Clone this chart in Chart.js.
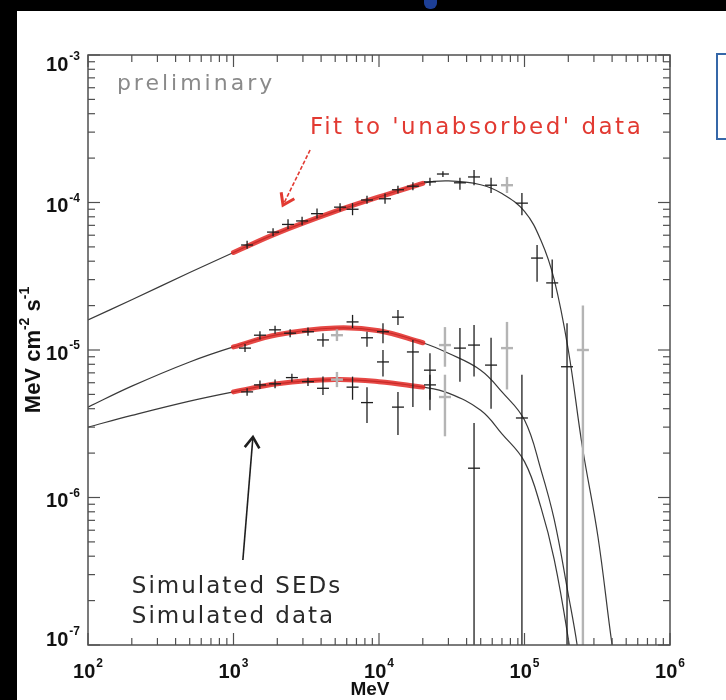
<!DOCTYPE html>
<html>
<head>
<meta charset="utf-8">
<script src="https://cdn.jsdelivr.net/npm/chart.js@4/dist/chart.umd.min.js"></script>
<style>
  html, body { margin: 0; padding: 0; width: 726px; height: 700px; overflow: hidden; background: #000; position: relative; }
  #page { position: absolute; left: 17px; top: 11px; width: 709px; height: 689px; background: #fff; overflow: hidden; }
  #sed { display: block; }
  #sidebox { position: absolute; left: 716px; top: 53px; width: 40px; height: 87px; border: 2px solid #3567a8; box-sizing: border-box; }
  #topmark { position: absolute; left: 424px; top: 0; width: 13px; height: 9px; background: #1d3f96; border-radius: 0 0 6px 6px; }
</style>
</head>
<body>
<div id="page"><canvas id="sed" width="709" height="689"></canvas></div>
<div id="sidebox"></div>
<div id="topmark"></div>
<script>
// Model SEDs (MeV cm^-2 s^-1) versus energy (MeV)
const modelEnergyHigh = [100, 200, 500, 1e3, 2e3, 5e3, 1e4, 2e4, 3e4, 5e4, 7e4, 1e5, 1.3e5, 1.6e5, 2e5, 2.5e5, 3.2e5, 4e5, 4.5e5];
const sedHigh = [1.6e-5, 2.19e-5, 3.35e-5, 4.58e-5, 6.2e-5, 8.7e-5, 1.09e-4, 1.35e-4, 1.40e-4, 1.32e-4, 1.15e-4, 8.7e-5, 5.5e-5, 3.0e-5, 1.0e-5, 2.2e-6, 5.4e-7, 1.0e-7, 5e-8];
const modelEnergy = [100, 200, 500, 1e3, 2e3, 5e3, 1e4, 2e4, 3e4, 5e4, 7e4, 1e5, 1.3e5, 1.6e5, 2e5, 2.3e5, 2.5e5];
const sedMid = [4.1e-6, 5.69e-6, 8.3e-6, 1.05e-5, 1.27e-5, 1.41e-5, 1.35e-5, 1.12e-5, 9.5e-6, 7.3e-6, 5.2e-6, 3.35e-6, 1.53e-6, 7.1e-7, 2.2e-7, 1.0e-7, 5e-8];
const sedLow = [3.0e-6, 3.6e-6, 4.5e-6, 5.2e-6, 5.9e-6, 6.3e-6, 6.1e-6, 5.6e-6, 5.1e-6, 3.9e-6, 2.7e-6, 1.75e-6, 8.5e-7, 3.8e-7, 1.1e-7, 4e-8, 2e-8];

// Fits to the unabsorbed part of each spectrum
const fitEnergy = [1e3, 2e3, 5e3, 1e4, 2e4];
const fitHigh = [4.58e-5, 6.2e-5, 8.7e-5, 1.09e-4, 1.35e-4];
const fitMid = [1.05e-5, 1.27e-5, 1.41e-5, 1.35e-5, 1.12e-5];
const fitLow = [5.2e-6, 5.9e-6, 6.3e-6, 6.1e-6, 5.6e-6];

// Simulated data points: energy, flux, lower and upper error
const dataHighE = [1.24e3, 1.87e3, 2.37e3, 2.96e3, 3.75e3, 5.40e3, 6.58e3, 8.27e3, 1.10e4, 1.35e4, 1.71e4, 2.24e4, 2.75e4, 3.60e4, 4.50e4, 5.89e4, 9.6e4, 1.22e5, 1.55e5, 1.96e5];
const dataHighF = [5.15e-5, 6.3e-5, 7.1e-5, 7.5e-5, 8.4e-5, 9.3e-5, 9.0e-5, 1.04e-4, 1.06e-4, 1.22e-4, 1.29e-4, 1.38e-4, 1.56e-4, 1.36e-4, 1.49e-4, 1.31e-4, 9.9e-5, 4.2e-5, 2.85e-5, 7.7e-6];
const dataHighLo = [4.85e-5, 5.9e-5, 6.6e-5, 7.0e-5, 7.8e-5, 8.7e-5, 8.2e-5, 9.8e-5, 9.8e-5, 1.15e-4, 1.21e-4, 1.30e-4, 1.49e-4, 1.22e-4, 1.31e-4, 1.16e-4, 8.2e-5, 2.9e-5, 2.25e-5, 1e-8];
const dataHighHi = [5.5e-5, 6.7e-5, 7.7e-5, 8.0e-5, 9.1e-5, 9.9e-5, 9.9e-5, 1.11e-4, 1.15e-4, 1.30e-4, 1.37e-4, 1.47e-4, 1.63e-4, 1.47e-4, 1.66e-4, 1.47e-4, 1.16e-4, 5.15e-5, 4.1e-5, 1.52e-5];

const dataMidE = [1.20e3, 1.52e3, 1.93e3, 2.45e3, 3.25e3, 4.12e3, 6.58e3, 8.27e3, 1.065e4, 1.35e4, 1.71e4, 2.24e4, 3.60e4, 4.50e4, 5.89e4, 9.6e4];
const dataMidF = [1.03e-5, 1.26e-5, 1.37e-5, 1.30e-5, 1.33e-5, 1.17e-5, 1.55e-5, 1.21e-5, 1.33e-5, 1.67e-5, 9.7e-6, 7.3e-6, 1.03e-5, 1.08e-5, 7.9e-6, 3.46e-6];
const dataMidLo = [9.7e-6, 1.18e-5, 1.29e-5, 1.22e-5, 1.25e-5, 1.05e-5, 1.41e-5, 1.05e-5, 1.11e-5, 1.48e-5, 4.1e-6, 3.9e-6, 6.1e-6, 6.6e-6, 4.0e-6, 1e-8];
const dataMidHi = [1.10e-5, 1.34e-5, 1.46e-5, 1.38e-5, 1.42e-5, 1.30e-5, 1.73e-5, 1.33e-5, 1.52e-5, 1.87e-5, 1.17e-5, 9.5e-6, 1.41e-5, 1.48e-5, 1.21e-5, 6.8e-6];

const dataLowE = [1.24e3, 1.52e3, 1.93e3, 2.52e3, 3.25e3, 4.12e3, 6.58e3, 8.27e3, 1.065e4, 1.35e4, 2.24e4, 4.50e4];
const dataLowF = [5.2e-6, 5.8e-6, 5.9e-6, 6.5e-6, 6.1e-6, 5.5e-6, 5.6e-6, 4.4e-6, 8.3e-6, 4.1e-6, 5.8e-6, 1.58e-6];
const dataLowLo = [4.9e-6, 5.45e-6, 5.5e-6, 6.1e-6, 5.7e-6, 4.95e-6, 4.6e-6, 3.2e-6, 6.6e-6, 2.65e-6, 4.6e-6, 1e-8];
const dataLowHi = [5.5e-6, 6.2e-6, 6.3e-6, 6.9e-6, 6.5e-6, 6.6e-6, 6.6e-6, 5.6e-6, 1.0e-5, 5.2e-6, 6.8e-6, 3.2e-6];

// Low-significance bins
const faintE = [7.58e4, 2.52e5, 5.14e3, 2.84e4, 7.58e4, 5.14e3, 2.84e4];
const faintF = [1.31e-4, 1.0e-5, 1.26e-5, 1.08e-5, 1.03e-5, 6.3e-6, 4.8e-6];
const faintLo = [1.16e-4, 1e-8, 1.15e-5, 7.7e-6, 5.4e-6, 5.6e-6, 2.6e-6];
const faintHi = [1.49e-4, 2.0e-5, 1.38e-5, 1.43e-5, 1.55e-5, 7.1e-6, 6.8e-6];

// Axis decades
const xTickPowers = [2, 3, 4, 5, 6];
const yTickPowers = [-7, -6, -5, -4, -3];

const pts = (xs, ys) => xs.map((x, i) => ({ x, y: ys[i] }));
const errPts = (xs, ys, lo, hi) => xs.map((x, i) => ({ x, y: ys[i], lo: lo[i], hi: hi[i] }));

const INK = '#1e1e1e';
const RED = '#e23a32';
const HAND = '"DejaVu Sans", sans-serif';
const AXISFONT = '"Liberation Sans", Arial, sans-serif';

const crossSet = (label, data, color, width) => ({
  label, data, showLine: false, errorBars: true,
  pointStyle: 'line', pointRadius: 6, pointHoverRadius: 6,
  borderColor: color, pointBorderColor: color, pointBorderWidth: width,
  errorColor: color, errorWidth: width
});
const curveSet = (label, data) => ({
  label, data, showLine: true, borderColor: '#3a3a3a', borderWidth: 1.2,
  pointRadius: 0, tension: 0.4, fill: false
});
const fitSet = (label, data) => ({
  label, data, showLine: true, borderColor: 'rgba(226,40,36,0.85)', borderWidth: 5,
  pointRadius: 0, tension: 0.4, fill: false, borderCapStyle: 'round'
});

function arrow(ctx, x0, y0, x1, y1, color, w, headW, dash) {
  ctx.save();
  ctx.strokeStyle = color; ctx.lineWidth = w; ctx.setLineDash(dash || []);
  ctx.beginPath(); ctx.moveTo(x0, y0); ctx.lineTo(x1, y1); ctx.stroke();
  ctx.setLineDash([]);
  const ang = Math.atan2(y1 - y0, x1 - x0), L = 13, spread = 0.6;
  ctx.lineWidth = headW; ctx.lineJoin = 'miter';
  ctx.beginPath();
  ctx.moveTo(x1 - L * Math.cos(ang - spread), y1 - L * Math.sin(ang - spread));
  ctx.lineTo(x1, y1);
  ctx.lineTo(x1 - L * Math.cos(ang + spread), y1 - L * Math.sin(ang + spread));
  ctx.stroke();
  ctx.restore();
}

function powLabel(ctx, exp, cx, cy, align) {
  const base = 'bold 20px ' + AXISFONT, sup = 'bold 12px ' + AXISFONT;
  ctx.font = base; const wb = ctx.measureText('10').width;
  ctx.font = sup; const we = ctx.measureText(exp).width;
  const x0 = align === 'right' ? cx - wb - we - 1 : cx - (wb + we + 1) / 2;
  ctx.textAlign = 'left'; ctx.textBaseline = 'middle';
  ctx.font = base; ctx.fillText('10', x0, cy);
  ctx.font = sup; ctx.fillText(exp, x0 + wb + 1, cy - 8);
}

const sedDecor = {
  id: 'sedDecor',
  afterDatasetsDraw(chart) {
    const { ctx, chartArea: a, scales: { x, y } } = chart;
    const clampY = v => Math.min(a.bottom, Math.max(a.top, v));
    ctx.save();

    // vertical error bars
    chart.data.datasets.forEach(ds => {
      if (!ds.errorBars) return;
      ctx.strokeStyle = ds.errorColor; ctx.lineWidth = ds.errorWidth;
      ds.data.forEach(p => {
        const px = x.getPixelForValue(p.x);
        const yHi = clampY(y.getPixelForValue(p.hi));
        const yLo = clampY(y.getPixelForValue(p.lo));
        ctx.beginPath(); ctx.moveTo(px, yHi); ctx.lineTo(px, yLo); ctx.stroke();
      });
    });

    // plot frame and inward log ticks
    ctx.strokeStyle = '#505050'; ctx.lineWidth = 1.5;
    ctx.strokeRect(a.left, a.top, a.right - a.left, a.bottom - a.top);
    ctx.lineWidth = 1.2;
    const seg = (x0, y0, x1, y1) => { ctx.beginPath(); ctx.moveTo(x0, y0); ctx.lineTo(x1, y1); ctx.stroke(); };
    for (let e = xTickPowers[0]; e <= xTickPowers[xTickPowers.length - 1]; e++) {
      for (let m = 1; m <= 9; m++) {
        const v = m * Math.pow(10, e);
        if (v > x.max * 1.0001) break;
        const px = x.getPixelForValue(v), len = m === 1 ? 12 : 7;
        seg(px, a.bottom, px, a.bottom - len);
        seg(px, a.top, px, a.top + len);
      }
    }
    for (let e = yTickPowers[0]; e <= yTickPowers[yTickPowers.length - 1]; e++) {
      for (let m = 1; m <= 9; m++) {
        const v = m * Math.pow(10, e);
        if (v > y.max * 1.0001) break;
        const py = y.getPixelForValue(v), len = m === 1 ? 12 : 7;
        seg(a.left, py, a.left + len, py);
        seg(a.right, py, a.right - len, py);
      }
    }

    // tick labels
    ctx.fillStyle = '#111';
    xTickPowers.forEach(p => powLabel(ctx, String(p), x.getPixelForValue(Math.pow(10, p)), a.bottom + 27, 'center'));
    yTickPowers.forEach(p => {
      const py = Math.min(a.bottom - 5, Math.max(a.top + 10, y.getPixelForValue(Math.pow(10, p)) + 4));
      powLabel(ctx, String(p), a.left - 8, py, 'right');
    });

    // axis titles
    ctx.font = 'bold 19px ' + AXISFONT; ctx.textAlign = 'center'; ctx.textBaseline = 'middle';
    ctx.fillText('MeV', x.getPixelForValue(1e4) - 9, a.bottom + 45);
    ctx.save();
    ctx.translate(a.left - 54, (a.top + a.bottom) / 2);
    ctx.rotate(-Math.PI / 2);
    const parts = [['MeV cm', 'bold 22px ', 0], ['-2', 'bold 14px ', -9], [' s', 'bold 22px ', 0], ['-1', 'bold 14px ', -9]];
    let total = 0;
    parts.forEach(pt => { ctx.font = pt[1] + AXISFONT; pt.push(ctx.measureText(pt[0]).width); total += pt[3]; });
    let cx = -total / 2;
    ctx.textAlign = 'left';
    parts.forEach(pt => { ctx.font = pt[1] + AXISFONT; ctx.fillText(pt[0], cx, pt[2]); cx += pt[3]; });
    ctx.restore();

    // annotations
    ctx.textAlign = 'left'; ctx.textBaseline = 'middle';
    ctx.letterSpacing = '3px';
    ctx.fillStyle = '#8a8a8a'; ctx.font = '22px ' + HAND;
    ctx.fillText('preliminary', x.getPixelForValue(158), y.getPixelForValue(6.3e-4));
    ctx.letterSpacing = '2.5px';
    ctx.fillStyle = RED; ctx.font = '23px ' + HAND;
    ctx.fillText("Fit to 'unabsorbed' data", x.getPixelForValue(3.36e3), y.getPixelForValue(3.2e-4));
    ctx.letterSpacing = '2px';
    ctx.fillStyle = '#2a2a2a'; ctx.font = '23px ' + HAND;
    ctx.fillText('Simulated SEDs', x.getPixelForValue(200), y.getPixelForValue(2.47e-7));
    ctx.fillText('Simulated data', x.getPixelForValue(200), y.getPixelForValue(1.55e-7));
    ctx.letterSpacing = '0px';

    arrow(ctx, x.getPixelForValue(3.36e3), y.getPixelForValue(2.27e-4),
      x.getPixelForValue(2.19e3), y.getPixelForValue(9.6e-5), RED, 1.6, 3, [4, 2]);
    arrow(ctx, x.getPixelForValue(1.16e3), y.getPixelForValue(3.77e-7),
      x.getPixelForValue(1.36e3), y.getPixelForValue(2.57e-6), INK, 1.6, 2.6);

    ctx.restore();
  }
};

new Chart(document.getElementById('sed'), {
  type: 'scatter',
  data: {
    datasets: [
      crossSet('simulated data (high)', errPts(dataHighE, dataHighF, dataHighLo, dataHighHi), INK, 1.3),
      crossSet('simulated data (mid)', errPts(dataMidE, dataMidF, dataMidLo, dataMidHi), INK, 1.3),
      crossSet('simulated data (low)', errPts(dataLowE, dataLowF, dataLowLo, dataLowHi), INK, 1.3),
      crossSet('low-significance bins', errPts(faintE, faintF, faintLo, faintHi), '#b4b4b4', 2.4),
      fitSet('fit (high)', pts(fitEnergy, fitHigh)),
      fitSet('fit (mid)', pts(fitEnergy, fitMid)),
      fitSet('fit (low)', pts(fitEnergy, fitLow)),
      curveSet('SED (high)', pts(modelEnergyHigh, sedHigh)),
      curveSet('SED (mid)', pts(modelEnergy, sedMid)),
      curveSet('SED (low)', pts(modelEnergy, sedLow))
    ]
  },
  options: {
    responsive: false,
    animation: false,
    devicePixelRatio: 1,
    layout: { padding: { left: 71, top: 44, right: 56, bottom: 55 } },
    scales: {
      x: { type: 'logarithmic', min: 100, max: 1e6, display: false },
      y: { type: 'logarithmic', min: 1e-7, max: 1e-3, display: false }
    },
    plugins: { legend: { display: false }, tooltip: { enabled: false } }
  },
  plugins: [sedDecor]
});
</script>
</body>
</html>
